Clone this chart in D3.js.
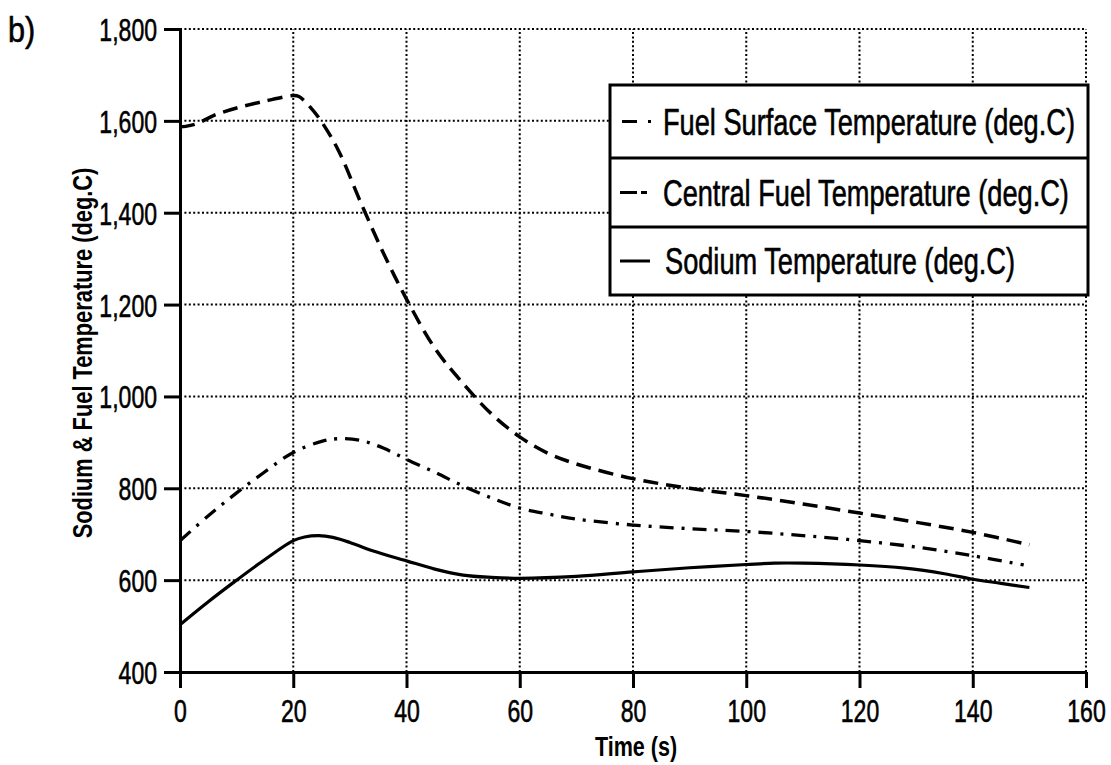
<!DOCTYPE html>
<html>
<head>
<meta charset="utf-8">
<script src="https://cdn.jsdelivr.net/npm/d3@7"></script>
<style>
  html, body { margin: 0; padding: 0; background: #fff; }
  svg { display: block; font-family: "Liberation Sans", Arial, sans-serif; }
</style>
</head>
<body>
<svg id="chart" width="1111" height="765"></svg>
<script>
// Time axis (s) and temperatures (deg.C) for each curve
const surfaceTime = [0, 1, 3, 6, 10, 15, 20, 21, 23, 25, 28, 32, 36, 40, 45, 50, 55, 60, 65, 70, 80, 90, 100, 110, 120, 130, 140, 150];
const surfaceTemp = [1587, 1588, 1594, 1612, 1628, 1643, 1655, 1653, 1630, 1598, 1535, 1420, 1310, 1212, 1105, 1028, 962, 912, 876, 853, 821, 800, 784, 766, 746, 726, 704, 677];

const centralTime = [0, 5, 10, 15, 20, 25, 28, 32, 36, 40, 45, 50, 55, 60, 65, 70, 80, 90, 100, 110, 120, 130, 140, 149];
const centralTemp = [686, 740, 790, 836, 878, 902, 908, 904, 887, 863, 835, 805, 779, 757, 744, 733, 720, 712, 706, 697, 686, 672, 653, 633];

const sodiumTime = [0, 5, 10, 15, 20, 22, 24.5, 27, 30, 34, 40, 45, 50, 55, 60, 70, 80, 90, 100, 105, 110, 120, 128, 135, 140, 145, 150];
const sodiumTemp = [503, 553, 600, 645, 686, 694, 697, 693, 682, 664, 642, 624, 611, 606, 604, 608, 618, 627, 634, 637, 637, 633, 626, 614, 602, 593, 584];

const xTicks = [0, 20, 40, 60, 80, 100, 120, 140, 160];
const yTicks = [400, 600, 800, 1000, 1200, 1400, 1600, 1800];

const seriesNames = [
  "Fuel Surface Temperature (deg.C)",
  "Central Fuel Temperature (deg.C)",
  "Sodium Temperature (deg.C)"
];

const xTitle = "Time (s)";
const yTitle = "Sodium & Fuel Temperature (deg.C)";
const panelLabel = "b)";

// ---- layout ----
const svg = d3.select("#chart");
const plotLeft = 180, plotRight = 1086, plotTop = 29, plotBottom = 672;
const x = d3.scaleLinear().domain([0, 160]).range([plotLeft, plotRight]);
const y = d3.scaleLinear().domain([400, 1800]).range([plotBottom, plotTop]);
const SX = 0.72; // horizontal squeeze giving the condensed lettering

// dotted grid
const grid = svg.append("g").attr("stroke", "#000").attr("stroke-width", 2)
  .attr("stroke-dasharray", "2,2.4").attr("fill", "none");
grid.selectAll("line.h").data(yTicks.slice(1)).join("line").attr("class", "h")
  .attr("x1", plotLeft).attr("x2", plotRight)
  .attr("y1", d => y(d)).attr("y2", d => y(d));
grid.selectAll("line.v").data(xTicks.slice(1)).join("line").attr("class", "v")
  .attr("y1", plotBottom).attr("y2", plotTop)
  .attr("x1", d => x(d)).attr("x2", d => x(d));

// axes
function squeezeTicks(g, anchor) {
  g.selectAll(".tick text").each(function () {
    const t = d3.select(this);
    const xv = +t.attr("x") || 0;
    t.attr("x", xv / SX).attr("transform", `scale(${SX},1)`).attr("text-anchor", anchor)
      .attr("stroke", "#000").attr("stroke-width", 0.6);
  });
}

const yAxis = svg.append("g").attr("transform", `translate(${plotLeft},0)`)
  .call(d3.axisLeft(y).tickValues(yTicks).tickSize(16).tickSizeOuter(0)
    .tickPadding(7).tickFormat(d3.format(",")));
yAxis.select(".domain").attr("stroke-width", 3);
yAxis.selectAll(".tick line").attr("stroke-width", 3);
yAxis.selectAll(".tick text").attr("font-size", 32).attr("fill", "#000").attr("dy", "0.36em");
squeezeTicks(yAxis, "end");

const xAxis = svg.append("g").attr("transform", `translate(0,${plotBottom})`)
  .call(d3.axisBottom(x).tickValues(xTicks).tickSize(16).tickSizeOuter(0)
    .tickPadding(0).tickFormat(d3.format("d")));
xAxis.select(".domain").attr("stroke-width", 3);
xAxis.selectAll(".tick line").attr("stroke-width", 3);
xAxis.selectAll(".tick text").attr("font-size", 32).attr("fill", "#000")
  .attr("y", 50).attr("dy", 0);
squeezeTicks(xAxis, "middle");

// curves
const line = d3.line().x(d => x(d[0])).y(d => y(d[1])).curve(d3.curveCatmullRom.alpha(0.5));
const curves = [
  { t: surfaceTime, v: surfaceTemp, dash: "15,8", w: 3.5 },
  { t: centralTime, v: centralTemp, dash: "14,8,3,8", w: 3.3 },
  { t: sodiumTime, v: sodiumTemp, dash: null, w: 3.2 }
];
svg.append("g").selectAll("path").data(curves).join("path")
  .attr("d", c => line(d3.zip(c.t, c.v)))
  .attr("fill", "none").attr("stroke", "#000")
  .attr("stroke-width", c => c.w)
  .attr("stroke-dasharray", c => c.dash)
  .attr("stroke-linecap", "butt");

// legend
const lg = svg.append("g");
const lx0 = 610, lx1 = 1088, rowEdges = [85, 158, 227, 295];
lg.append("rect").attr("x", lx0).attr("y", rowEdges[0])
  .attr("width", lx1 - lx0).attr("height", rowEdges[3] - rowEdges[0])
  .attr("fill", "#fff").attr("stroke", "#000").attr("stroke-width", 3);
lg.selectAll("line.sep").data(rowEdges.slice(1, 3)).join("line").attr("class", "sep")
  .attr("x1", lx0).attr("x2", lx1).attr("y1", d => d).attr("y2", d => d)
  .attr("stroke", "#000").attr("stroke-width", 3);

const symbols = [
  [[622, 637], [648, 651]],
  [[620, 637], [641, 647]],
  [[620, 650]]
];
seriesNames.forEach((name, i) => {
  const cy = (rowEdges[i] + rowEdges[i + 1]) / 2;
  symbols[i].forEach(s => {
    lg.append("line").attr("x1", s[0]).attr("x2", s[1])
      .attr("y1", cy).attr("y2", cy)
      .attr("stroke", "#000").attr("stroke-width", 3);
  });
  lg.append("text")
    .attr("transform", `translate(${i === 2 ? 665 : 663},${cy + 13}) scale(0.735,1)`)
    .attr("font-size", 37).attr("fill", "#000")
    .attr("stroke", "#000").attr("stroke-width", 0.6)
    .text(name);
});

// titles
svg.append("text")
  .attr("transform", `translate(636,756) scale(0.77,1)`)
  .attr("text-anchor", "middle").attr("font-size", 28).attr("font-weight", "bold")
  .text(xTitle);

svg.append("text")
  .attr("transform", `translate(92,353) rotate(-90) scale(0.78,1)`)
  .attr("text-anchor", "middle").attr("font-size", 28).attr("font-weight", "bold")
  .text(yTitle);

svg.append("text")
  .attr("transform", `translate(8,42) scale(0.85,1)`)
  .attr("font-size", 36).attr("fill", "#000")
  .attr("stroke", "#000").attr("stroke-width", 0.6)
  .text(panelLabel);
</script>
</body>
</html>
